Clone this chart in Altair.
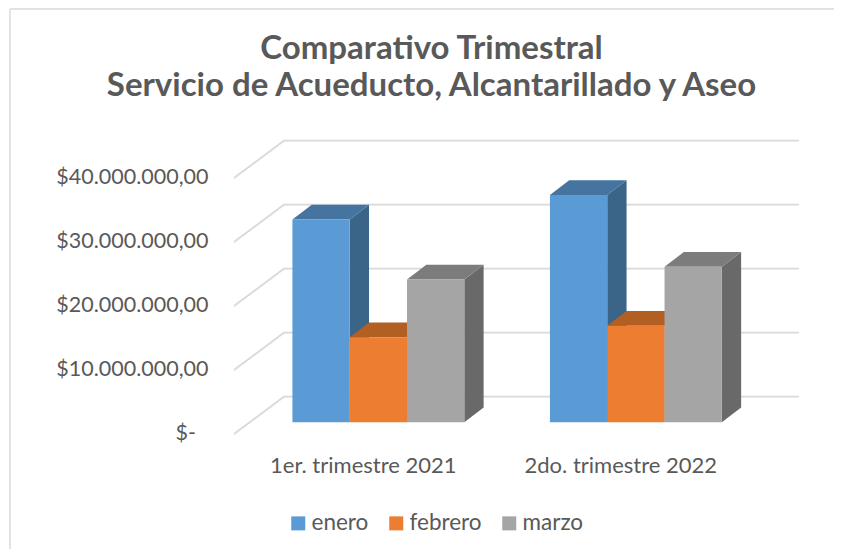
import altair as alt
import pandas as pd

series = ["enero", "febrero", "marzo"]
quarters = ["1er. trimestre 2021", "2do. trimestre 2022"]
values = {
    "enero": [31700000, 35500000],
    "febrero": [13300000, 15100000],
    "marzo": [22300000, 24300000],
}
front_colors = ["#5B9BD5", "#ED7D31", "#A5A5A5"]
top_colors = ["#44749F", "#B25F24", "#7C7C7C"]
side_colors = ["#3A6488", "#A35620", "#696969"]
y_ticks = [0, 10000000, 20000000, 30000000, 40000000]
zero_label = "$-"

X_MAX = 2.194
Y_MAX = 45780000
WALL_DX, WALL_DY = 0.194, 5830000
PLANE_DX, PLANE_DY = 0.0606, 1830000
BAR_DX, BAR_DY = 0.075, 2300000
BAR_W = 0.2225

xs = alt.Scale(domain=[0, X_MAX], nice=False, zero=False)
ys = alt.Scale(domain=[0, Y_MAX], nice=False, zero=False)
label_expr = "datum.value < 1 ? '%s' : '%s'" % (quarters[0], quarters[1])
x_axis = alt.Axis(
    title=None, values=[0.5, 1.5], labelExpr=label_expr, domain=False, ticks=False,
    grid=False, labelFont="Lato", labelFontSize=22, labelColor="#595959",
    labelPadding=21, labelOverlap=False, labelFlush=False, labelLimit=400)
y_axis = alt.Axis(
    title=None, values=y_ticks[1:], domain=False, ticks=False, grid=False,
    labelExpr="'$' + (datum.value / 1000000) + '.000.000,00'",
    labelFont="Lato", labelFontSize=21.5, labelColor="#595959",
    labelPadding=26, labelOverlap=False, labelLimit=400)
X = alt.X("x:Q", scale=xs, axis=x_axis)
Y = alt.Y("y:Q", scale=ys, axis=y_axis)

# walls
grid_rows = []
for t in y_ticks:
    grid_rows += [
        {"tick": t, "k": 0, "x": 0, "y": t},
        {"tick": t, "k": 1, "x": WALL_DX, "y": t + WALL_DY},
        {"tick": t, "k": 2, "x": X_MAX, "y": t + WALL_DY},
    ]
grid = alt.Chart(pd.DataFrame(grid_rows)).mark_line(
    color="#D9D9D9", strokeWidth=1.8
).encode(x=X, y=Y, detail="tick:N", order="k:Q")

zero_text = alt.Chart(pd.DataFrame({"x": [0], "y": [y_ticks[0]], "t": [zero_label]})).mark_text(
    align="right", baseline="middle", dx=-38, font="Lato", fontSize=21.5, color="#595959"
).encode(x=X, y=Y, text="t:N")

layers = [grid, zero_text]
color = alt.Color("serie:N", scale=alt.Scale(domain=series, range=front_colors), legend=alt.Legend(
    orient="none", legendX=53, legendY=371, direction="horizontal", title=None,
    symbolType="square", symbolSize=196, symbolStrokeWidth=0, symbolOpacity=1,
    labelFont="Lato", labelFontSize=22.5, labelColor="#595959", labelOffset=2,
    columnPadding=16))

for q in range(len(quarters)):
    base = PLANE_DX + 0.5 + q - 1.5 * BAR_W
    for s, name in enumerate(series):
        v = values[name][q]
        x0 = base + s * BAR_W
        x1 = x0 + BAR_W
        y0 = PLANE_DY
        yt = v + PLANE_DY
        side = pd.DataFrame({
            "x": [x1, x1 + BAR_DX],
            "y": [yt, yt + BAR_DY],
            "y2": [y0, y0 + BAR_DY],
        })
        top = pd.DataFrame({
            "x": [x0, x0 + BAR_DX, x1, x1 + BAR_DX],
            "y": [yt, yt + BAR_DY, yt + BAR_DY, yt + BAR_DY],
            "y2": [yt, yt, yt, yt + BAR_DY],
        })
        front = pd.DataFrame({"x": [x0], "x2": [x1], "y": [y0], "y2": [yt], "serie": [name]})
        layers.append(alt.Chart(side).mark_area(color=side_colors[s]).encode(x=X, y=Y, y2="y2:Q"))
        layers.append(alt.Chart(top).mark_area(color=top_colors[s]).encode(x=X, y=Y, y2="y2:Q"))
        layers.append(alt.Chart(front).mark_rect().encode(x=X, x2="x2:Q", y=Y, y2="y2:Q", color=color))

frame = alt.Chart(pd.DataFrame({"a": [0]})).mark_rule(color="#D9D9D9", strokeWidth=1.4)
layers.append(frame.encode(x=alt.value(-224), x2=alt.value(608), y=alt.value(-132)))
layers.append(frame.encode(x=alt.value(-224), y=alt.value(-132), y2=alt.value(416)))

chart = alt.layer(*layers).properties(
    width=565,
    height=293,
    background="white",
    padding={"left": 226, "top": 133, "right": 35, "bottom": 115},
    autosize=alt.AutoSizeParams(type="none"),
    title=alt.TitleParams(
        ["Comparativo Trimestral", "Servicio de Acueducto, Alcantarillado y Aseo"],
        font="Lato", fontSize=33, fontWeight="bold", color="#595959",
        anchor="middle", dx=-85, dy=95, lineHeight=37, offset=0),
).configure_view(stroke=None)

chart.save("out.html", embed_options={"renderer": "svg", "actions": False})
